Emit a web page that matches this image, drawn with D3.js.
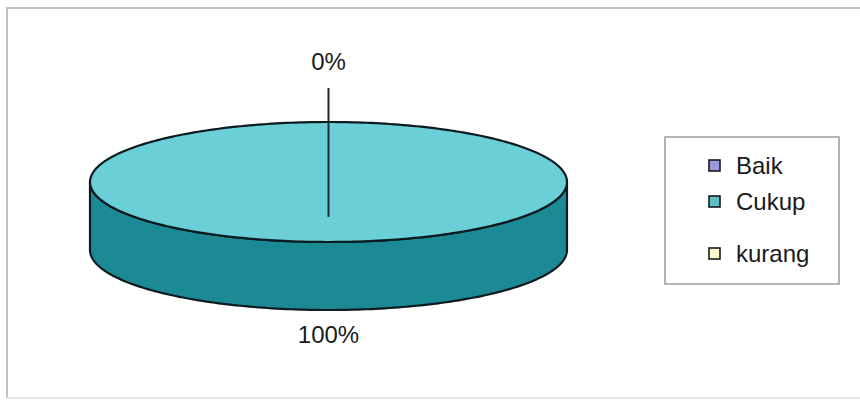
<!DOCTYPE html>
<html>
<head>
<meta charset="utf-8">
<script src="https://cdn.jsdelivr.net/npm/d3@7/dist/d3.min.js"></script>
<style>
  html, body { margin: 0; padding: 0; background: #ffffff; }
  svg { display: block; font-family: "Liberation Sans", Arial, sans-serif; }
</style>
</head>
<body>
<svg id="chart" width="860" height="405"></svg>
<script>
// Category names and their shares (percent)
const categories = ["Baik", "Cukup", "kurang"];
const values = [0, 100, 0];
const percentLabels = ["0%", "100%", "0%"];

// Slice fills: top face, side wall, legend swatch
const topColors = ["#9a98dc", "#6acfd7", "#fdfbd0"];
const sideColors = ["#6a68a8", "#1b8a95", "#c8c69a"];
const swatchColors = ["#9a98dc", "#5cbfc7", "#fdfbd0"];

const svg = d3.select("#chart");

// Outer frame (top and left edges drawn firmly, bottom faint)
svg.append("path")
  .attr("d", "M861,8 H7 V398")
  .attr("fill", "none")
  .attr("stroke", "#c0c0c0")
  .attr("stroke-width", 2);
svg.append("line")
  .attr("x1", 7).attr("y1", 398).attr("x2", 861).attr("y2", 398)
  .attr("stroke", "#e6e6e6")
  .attr("stroke-width", 2);

// 3D pie geometry
const cx = 328.5, cy = 182, rx = 238.5, ry = 60, depth = 68;

const pie = d3.pie().sort(null).value(d => d)(values);

// Angle convention follows d3: 0 at 12 o'clock, clockwise
const px = a => cx + rx * Math.sin(a);
const py = (a, dz = 0) => cy - ry * Math.cos(a) + dz;

function arcPoints(a0, a1, dz) {
  const n = Math.max(2, Math.ceil(Math.abs(a1 - a0) / 0.02));
  const pts = [];
  for (let i = 0; i <= n; i++) {
    const a = a0 + (a1 - a0) * i / n;
    pts.push([px(a), py(a, dz)]);
  }
  return pts;
}

const line = d3.line();
const full = Math.PI * 2 - 1e-9;

// Side walls (only the front half, angles between pi/2 and 3pi/2, is visible)
const sides = svg.append("g");
pie.forEach((s, i) => {
  if (s.endAngle - s.startAngle <= 0) return;
  const a0 = Math.max(s.startAngle, Math.PI / 2);
  const a1 = Math.min(s.endAngle, Math.PI * 1.5);
  if (a1 <= a0) return;
  const top = arcPoints(a0, a1, 0);
  const bottom = arcPoints(a1, a0, depth);
  sides.append("path")
    .attr("d", line(top.concat(bottom)) + "Z")
    .attr("fill", sideColors[i])
    .attr("stroke", "#0b1b20")
    .attr("stroke-width", 2.2)
    .attr("stroke-linejoin", "round");
});

// Top faces
const tops = svg.append("g");
pie.forEach((s, i) => {
  if (s.endAngle - s.startAngle <= 0) return;
  let d;
  if (s.endAngle - s.startAngle >= full) {
    d = line(arcPoints(0, Math.PI * 2, 0)) + "Z";
  } else {
    d = line([[cx, cy]].concat(arcPoints(s.startAngle, s.endAngle, 0))) + "Z";
  }
  tops.append("path")
    .attr("d", d)
    .attr("fill", topColors[i])
    .attr("stroke", "#0b1b20")
    .attr("stroke-width", 2.2)
    .attr("stroke-linejoin", "round");
});

// Data labels
const labels = svg.append("g")
  .attr("font-size", 24)
  .attr("fill", "#1a1a1a")
  .attr("text-anchor", "middle");

// Zero-share slice: label above the pie with a leader line into the face
const zeroSlice = pie[0];
const za = (zeroSlice.startAngle + zeroSlice.endAngle) / 2;
labels.append("text")
  .attr("x", px(za))
  .attr("y", 70)
  .text(percentLabels[0]);
svg.append("line")
  .attr("x1", px(za)).attr("y1", 88)
  .attr("x2", px(za)).attr("y2", cy + ry * 0.58)
  .attr("stroke", "#1a2a30")
  .attr("stroke-width", 2);

// Full slice: label below the pie
labels.append("text")
  .attr("x", cx)
  .attr("y", 343)
  .text(percentLabels[1]);

// Legend
const lg = svg.append("g");
lg.append("rect")
  .attr("x", 665).attr("y", 137)
  .attr("width", 174).attr("height", 147)
  .attr("fill", "#ffffff")
  .attr("stroke", "#9a9a9a")
  .attr("stroke-width", 1.5);

const rowY = [166, 202, 254];
categories.forEach((c, i) => {
  lg.append("rect")
    .attr("x", 709).attr("y", rowY[i] - 6)
    .attr("width", 11).attr("height", 11)
    .attr("fill", swatchColors[i])
    .attr("stroke", "#1a1a1a")
    .attr("stroke-width", 1.6);
  lg.append("text")
    .attr("x", 736).attr("y", rowY[i] + 8)
    .attr("font-size", 24)
    .attr("fill", "#1a1a1a")
    .text(c);
});
</script>
</body>
</html>
